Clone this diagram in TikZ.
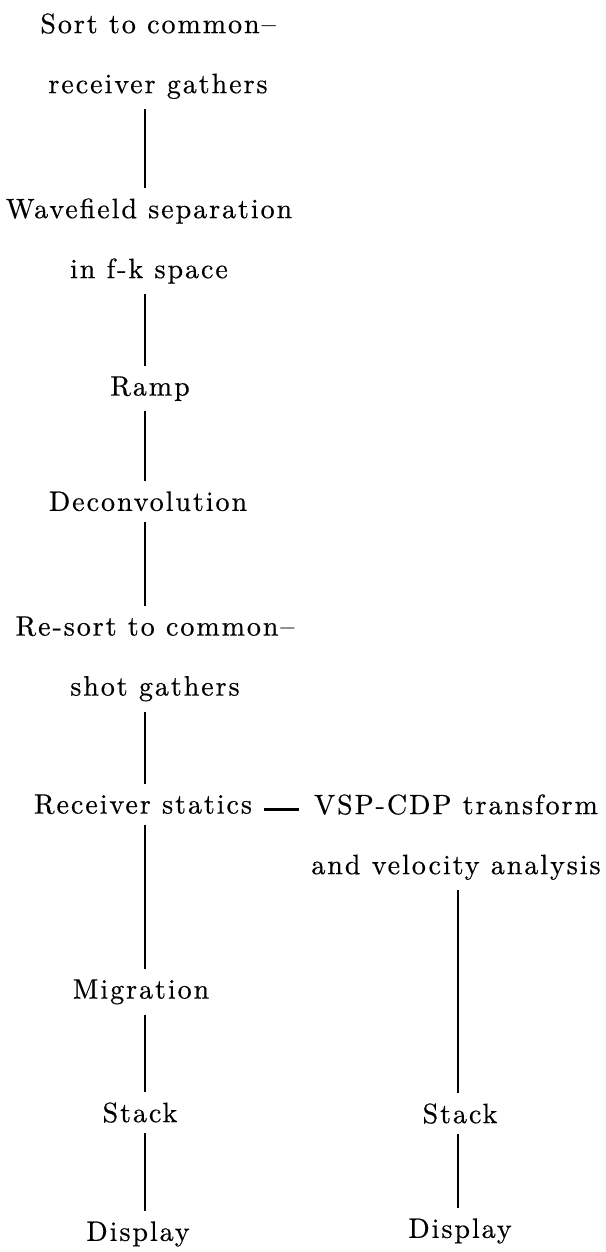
\documentclass[tikz,border=0pt]{standalone}
\usepackage{fontspec}
\usepackage{tikz}
\newfontfamily\procfont{lmroman10-regular.otf}[LetterSpace=7,FakeBold=0.5]

\begin{document}
\begin{tikzpicture}[x=0.5pt, y=-0.5pt,
    stage/.style={anchor=north, align=center, inner xsep=6pt, inner ysep=5pt,
        font=\procfont\fontsize{14}{30}\selectfont},
    link/.style={line width=1.3pt}]

    \useasboundingbox (0,0) rectangle (605,1252);
    \coordinate (colL) at (145,0);
    \coordinate (colR) at (458,0);

    \node[stage] (sort) at (158,3) {Sort to common–\\receiver gathers};
    \node[stage] (wave) at (149,188) {Wavefield separation\\in f-k space};
    \node[stage] (ramp) at (150,366) {Ramp};
    \node[stage] (decon) at (148,481) {Deconvolution};
    \node[stage] (resort) at (155,606) {Re-sort to common–\\shot gathers};
    \node[stage] (rstat) at (143,784) {Receiver statics};
    \node[stage] (migr) at (141,969) {Migration};
    \node[stage] (stackL) at (140,1092) {Stack};
    \node[stage] (dispL) at (138,1211) {Display};

    \node[stage] (vsp) at (456,784) {VSP-CDP transform\\and velocity analysis};
    \node[stage] (stackR) at (460,1093) {Stack};
    \node[stage] (dispR) at (460,1208) {Display};

    \draw[link] (sort.south -| colL) -- (wave.north -| colL);
    \draw[link] (wave.south -| colL) -- (ramp.north -| colL);
    \draw[link] (ramp.south -| colL) -- (decon.north -| colL);
    \draw[link] (decon.south -| colL) -- (resort.north -| colL);
    \draw[link] (resort.south -| colL) -- (rstat.north -| colL);
    \draw[link] (rstat.south -| colL) -- (migr.north -| colL);
    \draw[link] (migr.south -| colL) -- (stackL.north -| colL);
    \draw[link] (stackL.south -| colL) -- (dispL.north -| colL);

    \draw[link] (rstat.mid east) -- (rstat.mid east -| vsp.west);
    \draw[link] (vsp.south -| colR) -- (stackR.north -| colR);
    \draw[link] (stackR.south -| colR) -- (dispR.north -| colR);
\end{tikzpicture}
\end{document}
